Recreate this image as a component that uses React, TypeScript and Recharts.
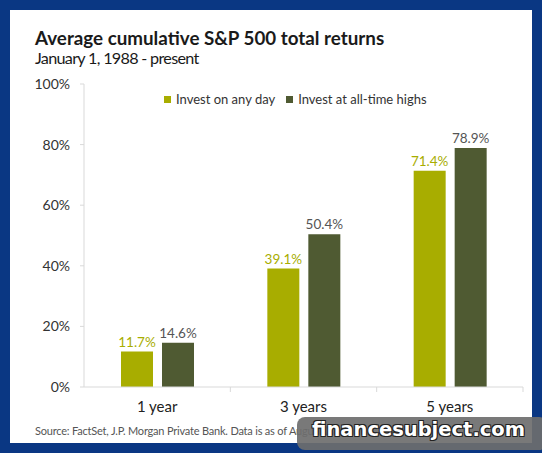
import { BarChart, Bar, XAxis, YAxis, LabelList } from "recharts";

const categories = ["1 year", "3 years", "5 years"];
const anyDay = [11.7, 39.1, 71.4];
const allTimeHighs = [14.6, 50.4, 78.9];
const yTicks = [0, 20, 40, 60, 80, 100];
const seriesNames = ["Invest on any day", "Invest at all-time highs"];

const GREEN = "#a8ad00";
const DARK = "#4f5a32";
const NAVY = "#0a3783";
const FONT = "Lato, 'Open Sans', sans-serif";

const data = categories.map((c, i) => ({
  name: c,
  anyDay: anyDay[i],
  ath: allTimeHighs[i],
}));

// category tick: label in the middle, small tick marks at band edges
function CatTick(props: any) {
  const { x, y, payload, index } = props;
  const off = payload && payload.offset ? payload.offset : 73;
  const axisY = y - 8;
  return (
    <g>
      {index > 0 && (
        <line x1={x - off} x2={x - off} y1={axisY} y2={axisY + 5} stroke="#d9d9d9" />
      )}
      {index === categories.length - 1 && (
        <line x1={x + off} x2={x + off} y1={axisY} y2={axisY + 5} stroke="#d9d9d9" />
      )}
      <text x={x} y={y} dy={17} textAnchor="middle" fill="#222" fontSize={15} fontFamily={FONT}>
        {payload.value}
      </text>
    </g>
  );
}

function LegendBox() {
  const items = [
    { label: seriesNames[0], color: GREEN },
    { label: seriesNames[1], color: DARK },
  ];
  return (
    <div style={{ display: "flex", alignItems: "center", fontFamily: FONT, fontSize: 13, color: "#333" }}>
      {items.map((it, i) => (
        <div key={it.label} style={{ display: "flex", alignItems: "center", marginRight: i === 0 ? 11 : 0 }}>
          <span style={{ width: 7, height: 7, background: it.color, display: "inline-block", marginRight: 5 }} />
          <span>{it.label}</span>
        </div>
      ))}
    </div>
  );
}

export default function App() {
  return (
    <div style={{ position: "absolute", left: 0, top: 0, width: 542, height: 453, background: NAVY, overflow: "hidden" }}>
      <div style={{ position: "absolute", left: 10, top: 10, width: 522, height: 433, background: "#fff" }} />
      <div style={{ position: "absolute", left: 35, top: 26, fontFamily: FONT, fontWeight: 700, fontSize: 18.8, color: "#1a1a1a", whiteSpace: "nowrap" }}>
        Average cumulative S&amp;P 500 total returns
      </div>
      <div style={{ position: "absolute", left: 35, top: 48, fontFamily: FONT, fontSize: 16.2, letterSpacing: -0.7, color: "#1a1a1a", whiteSpace: "nowrap" }}>
        January 1, 1988 - present
      </div>
      <div style={{ position: "absolute", left: 0, top: 0 }}>
        <BarChart
          width={542}
          height={453}
          data={data}
          margin={{ top: 84, right: 19, bottom: 36, left: 24 }}
          barGap={9}
          barSize={32}
        >
          <XAxis
            dataKey="name"
            height={30}
            axisLine={{ stroke: "#d9d9d9" }}
            tickLine={false}
            tickSize={6}
            tickMargin={2}
            tick={<CatTick />}
            interval={0}
          />
          <YAxis
            width={60}
            domain={[0, 100]}
            ticks={yTicks}
            tickFormatter={(v: number) => `${v}%`}
            axisLine={{ stroke: "#d9d9d9" }}
            tickLine={{ stroke: "#d9d9d9" }}
            tickSize={4}
            tickMargin={10}
            tick={{ fill: "#333", fontSize: 14, fontFamily: FONT }}
          />
          <Bar dataKey="anyDay" name={seriesNames[0]} fill={GREEN} isAnimationActive={false}>
            <LabelList
              dataKey="anyDay"
              position="top"
              offset={5}
              formatter={(v: any) => `${Number(v).toFixed(1)}%`}
              fill={GREEN}
              fontSize={13.5}
              fontFamily={FONT}
            />
          </Bar>
          <Bar dataKey="ath" name={seriesNames[1]} fill={DARK} isAnimationActive={false}>
            <LabelList
              dataKey="ath"
              position="top"
              offset={5}
              formatter={(v: any) => `${Number(v).toFixed(1)}%`}
              fill="#555"
              fontSize={13.5}
              fontFamily={FONT}
            />
          </Bar>
        </BarChart>
      </div>
      <div style={{ position: "absolute", left: 164, top: 91 }}>
        <LegendBox />
      </div>
      <div style={{ position: "absolute", left: 35, top: 424, fontFamily: FONT, fontSize: 11, letterSpacing: -0.2, color: "#555", whiteSpace: "nowrap" }}>
        Source: FactSet, J.P. Morgan Private Bank. Data is as of August 27, 2020.
      </div>
      <div
        style={{
          position: "absolute",
          left: 297,
          top: 417,
          width: 250,
          height: 33,
          borderRadius: 8,
          background: "rgba(110,110,110,0.92)",
        }}
      />
      <div
        style={{
          position: "absolute",
          left: 312,
          top: 418,
          fontFamily: "'DejaVu Sans', sans-serif",
          fontWeight: 700,
          fontSize: 19.5,
          color: "#fff",
          textShadow: "1px 1px 0 #222, -1px -1px 0 #222, 1px -1px 0 #222, -1px 1px 0 #222",
          whiteSpace: "nowrap",
        }}
      >
        financesubject.com
      </div>
    </div>
  );
}
